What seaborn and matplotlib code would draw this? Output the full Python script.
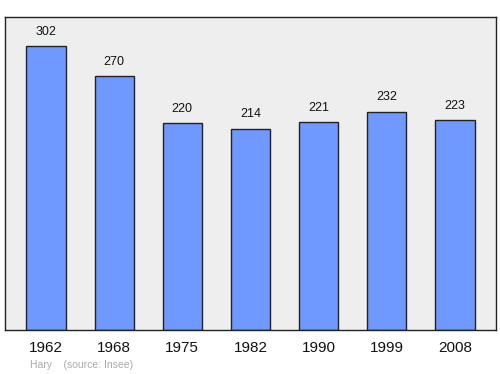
import matplotlib
matplotlib.use("Agg")
import matplotlib.pyplot as plt
import seaborn as sns
import pandas as pd

years = ["1962", "1968", "1975", "1982", "1990", "1999", "2008"]
population = [302, 270, 220, 214, 221, 232, 223]

df = pd.DataFrame({"year": years, "pop": population})

sns.set_style("white")
plt.rcParams['font.family'] = ['Liberation Sans', 'DejaVu Sans']

fig = plt.figure(figsize=(5, 3.74), dpi=100)
ax = fig.add_axes([0.01, 0.1176, 0.982, 0.837])
ax.set_facecolor("#eeeeee")

sns.barplot(data=df, x="year", y="pop", color="#7099ff", saturation=1,
            edgecolor="#222222", linewidth=1, width=0.575, ax=ax)

ax.set_xlim(-0.6, 6.6)
ax.set_ylim(0, 333)
for i, v in enumerate(population):
    ax.text(i, v + 9, str(v), ha="center", va="bottom", fontsize=9, color="#111111")

ax.set_yticks([])
ax.set_xlabel("")
ax.set_ylabel("")
ax.tick_params(axis="x", length=0, labelsize=11, pad=8, colors="#111111")
for s in ax.spines.values():
    s.set_color("#222222")
    s.set_linewidth(1)

fig.text(0.06, 0.017, "Hary    (source: Insee)", fontsize=7.5, color="#aaaaaa")

fig.savefig("out.png", dpi=100)
